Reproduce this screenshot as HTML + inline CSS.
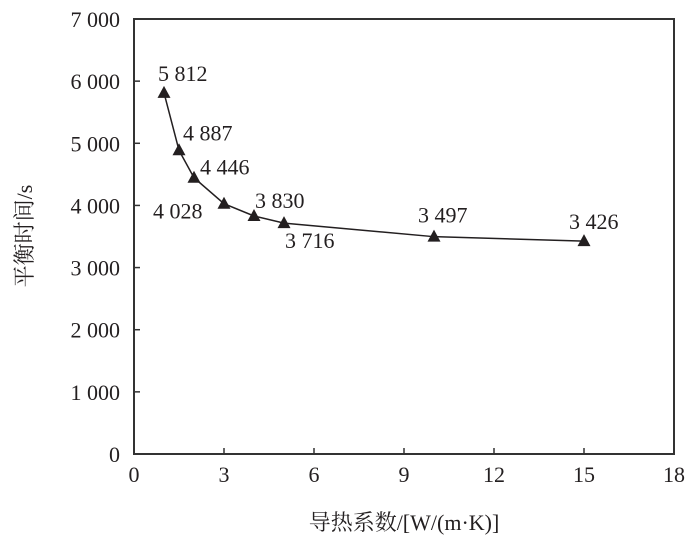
<!DOCTYPE html>
<html><head><meta charset="utf-8"><style>
html,body{margin:0;padding:0;background:#fff;}
text{font-family:"Liberation Serif","Noto Serif CJK SC",serif;fill:#231f20;}
</style></head><body>
<svg id="chart" width="700" height="548" viewBox="0 0 700 548" xmlns="http://www.w3.org/2000/svg">
<rect x="134" y="19" width="540" height="435" fill="none" stroke="#333" stroke-width="2"/>
<g id="axes"></g>
<path id="line" fill="none" stroke="#231f20" stroke-width="1.5"/>
<g id="marks"></g>
<text x="404" y="530" font-size="22" text-anchor="middle">导热系数/[W/(m·K)]</text>
<text transform="translate(32,236) rotate(-90)" font-size="22" text-anchor="middle">平衡时间/s</text>
</svg>
<script>
const xValues=[1,1.5,2,3,4,5,10,15];
const yValues=[5812,4887,4446,4028,3830,3716,3497,3426];
const valueLabels=["5 812","4 887","4 446","4 028","3 830","3 716","3 497","3 426"];
const xTicks=[0,3,6,9,12,15,18];
const yTicks=[0,1000,2000,3000,4000,5000,6000,7000];
const yTickLabels=["0","1 000","2 000","3 000","4 000","5 000","6 000","7 000"];
const labelOffsets=[[-6,-12],[4,-10],[6,-3],[-71,15],[1,-8],[1,25],[-16,-14],[-15,-12]];
const X=v=>134+v*30, Y=v=>454-v*435/7000;
const ns="http://www.w3.org/2000/svg";
const axes=document.getElementById('axes'), marks=document.getElementById('marks');
function mk(tag,attrs,parent){const e=document.createElementNS(ns,tag);for(const k in attrs)e.setAttribute(k,attrs[k]);parent.appendChild(e);return e;}
xTicks.forEach(t=>{
  const l=mk('line',{x1:X(t),x2:X(t),y1:454,y2:448,stroke:'#333','stroke-width':1.5},axes);
  
  
  const tx=mk('text',{x:X(t),y:482,'font-size':22,'text-anchor':'middle'},axes);tx.textContent=t;
  
  
});
yTicks.forEach((t,i)=>{
  const l=mk('line',{x1:134,x2:140,y1:Y(t),y2:Y(t),stroke:'#333','stroke-width':1.5},axes);
  
  
  const tx=mk('text',{x:120,y:Y(t)+8,'font-size':22,'text-anchor':'end'},axes);tx.textContent=yTickLabels[i];
  
  
});
document.getElementById('line').setAttribute('d',xValues.map((x,i)=>(i?'L':'M')+X(x)+' '+Y(yValues[i])).join(''));
xValues.forEach((x,i)=>{
  const px=X(x),py=Y(yValues[i]);
  const p=mk('polygon',{points:`${px},${py-7} ${px-6.5},${py+5} ${px+6.5},${py+5}`,fill:'#231f20'},marks);
  
  
  const t=mk('text',{x:px+labelOffsets[i][0],y:py+labelOffsets[i][1],'font-size':22},marks);t.textContent=valueLabels[i];
  
  
});
</script>
</body></html>
